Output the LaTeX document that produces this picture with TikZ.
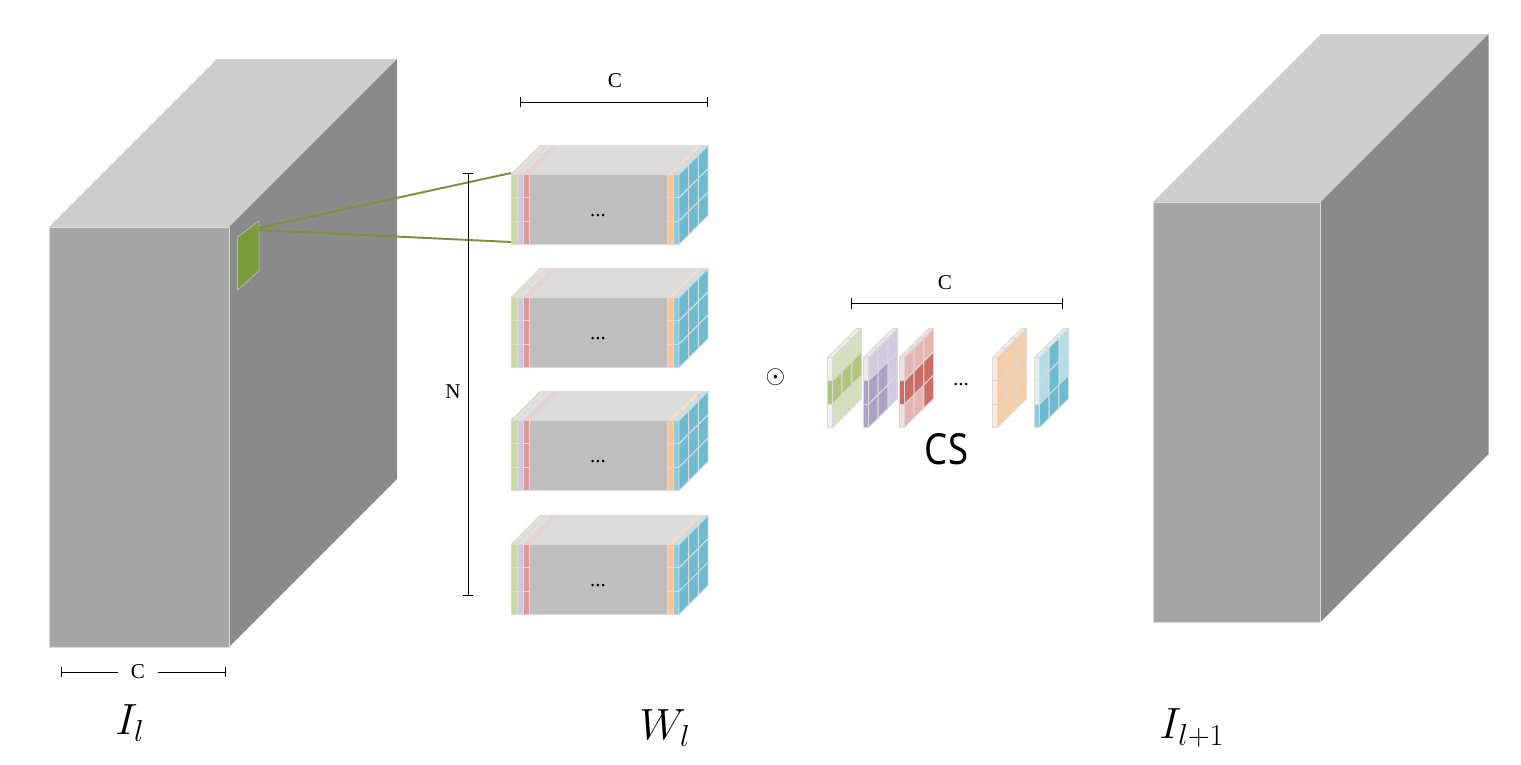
\documentclass[tikz,border=0pt]{standalone}
\usepackage{fontspec}
\setmainfont{Liberation Serif}
\newfontfamily\csfont{Noto Sans}
\usepackage{amsmath, amssymb}
\usepackage{xcolor}
\usetikzlibrary{calc}

\definecolor{bigfront}{HTML}{A6A6A6}
\definecolor{bigside}{HTML}{8A8A8A}
\definecolor{bigtop}{HTML}{CDCDCD}
\definecolor{edgegray}{HTML}{DADADA}
\definecolor{patchedge}{HTML}{B4B4B4}
\definecolor{blockfront}{HTML}{BEBEBE}
\definecolor{blocktop}{HTML}{DCDCDC}
\definecolor{patchgreen}{HTML}{7A9A3C}
\definecolor{linkgreen}{HTML}{76923C}

\definecolor{greenfront}{HTML}{C8D8A0}
\definecolor{greentop}{HTML}{DDE6CA}
\definecolor{purplefront}{HTML}{CFC7DE}
\definecolor{purpletop}{HTML}{E2DEEA}
\definecolor{redfront}{HTML}{DC9A94}
\definecolor{redtop}{HTML}{EFCFCB}
\definecolor{orangefront}{HTML}{F8C49A}
\definecolor{orangetop}{HTML}{FADCC3}
\definecolor{bluefront}{HTML}{8FCCDB}
\definecolor{bluetop}{HTML}{C3E1EA}
\definecolor{blueside}{HTML}{6BBCD2}

\definecolor{greenlight}{HTML}{D5E0BE}
\definecolor{greendark}{HTML}{AFC77C}
\definecolor{greenpale}{HTML}{EEF3E5}
\definecolor{purplelight}{HTML}{D2CBE0}
\definecolor{purpledark}{HTML}{AFA0C6}
\definecolor{purplepale}{HTML}{ECE9F2}
\definecolor{redlight}{HTML}{E6B5B1}
\definecolor{reddark}{HTML}{CB6D62}
\definecolor{redpale}{HTML}{F4DDDB}
\definecolor{orangelight}{HTML}{F8CEA9}
\definecolor{orangepale}{HTML}{FCEADC}
\definecolor{bluelight}{HTML}{B3DCE6}
\definecolor{bluepale}{HTML}{DCEFF4}

\tikzset{
	cell/.style = {draw = edgegray, line width = 0.55pt},
	dimline/.style = {|-|, black, line width = 0.5pt},
	dimlabel/.style = {font = \fontsize{12}{12}\selectfont},
	dots/.style = {font = \fontsize{12}{12}\selectfont},
	biglabel/.style = {font = \fontsize{25}{25}\selectfont},
	link/.style = {draw = linkgreen, line width = 1.1pt}
}

% x, y, width, height, depth
\newcommand{\cuboid}[5]{
	\fill [bigtop] (#1,#2) -- ++(#5,-#5) -- ++(#3,0) -- ++(-#5,#5) -- cycle;
	\fill [bigside] ({#1+#3},#2) -- ++(#5,-#5) -- ++(0,#4) -- ++(-#5,#5) -- cycle;
	\filldraw [fill = bigfront, draw = edgegray, line width = 0.5pt] (#1,#2) rectangle ++(#3,#4);
}

% vertical shift of one block
\newcommand{\wblock}[1]{
	\begin{scope}[shift = {(0,#1)}]
		\filldraw [fill = blocktop, cell] (511,174.5) -- (540,145.5) -- (708,145.5) -- (679,174.5) -- cycle;
		\foreach \x/\colf/\colt in {511.5/greenfront/greentop, 517.5/purplefront/purpletop, 523.5/redfront/redtop, 667.5/orangefront/orangetop, 673.5/bluefront/bluetop}
		{
			\foreach \k in {0,1,2}
			{
				\filldraw [fill = \colt, cell] ({\x+\k*29/3},{174.5-\k*29/3}) -- ++(5.5,0) -- ++({29/3},{-29/3}) -- ++(-5.5,0) -- cycle;
				\filldraw [fill = \colf, cell] (\x,{174.5+\k*70/3}) rectangle ++(5.5,{70/3});
			}
		}
		\filldraw [fill = blockfront, cell] (529.5,174.5) rectangle (667,244.5);
		\foreach \c in {0,1,2}
		{
			\foreach \r in {0,1,2}
			{
				\filldraw [fill = blueside, cell] ({679+\c*29/3},{174.5+\r*70/3-\c*29/3}) -- ++({29/3},{-29/3}) -- ++(0,{70/3}) -- ++({-29/3},{29/3}) -- cycle;
			}
		}
		\node [dots] (dots#1) at (598,216) {...};
	\end{scope}
}

% x, light, dark, pale, dark cells (column/row), front rows (row/colour)
\newcommand{\csslice}[6]{
	\foreach \k in {0,1,2}
	{
		\filldraw [fill = #4, cell] ({#1+\k*29/3},{357.5-\k*29/3}) -- ++(5,0) -- ++({29/3},{-29/3}) -- ++(-5,0) -- cycle;
		\filldraw [fill = #4, cell] (#1,{357.5+\k*70/3}) rectangle ++(5,{70/3});
		\foreach \r in {0,1,2}
		{
			\filldraw [fill = #2, cell] ({#1+5+\k*29/3},{357.5+\r*70/3-\k*29/3}) -- ++({29/3},{-29/3}) -- ++(0,{70/3}) -- ++({-29/3},{29/3}) -- cycle;
		}
	}
	\foreach \c/\r in {#5}
	{
		\filldraw [fill = #3, cell] ({#1+5+\c*29/3},{357.5+\r*70/3-\c*29/3}) -- ++({29/3},{-29/3}) -- ++(0,{70/3}) -- ++({-29/3},{29/3}) -- cycle;
	}
	\foreach \r/\colr in {#6}
	{
		\filldraw [fill = \colr, cell] (#1,{357.5+\r*70/3}) rectangle ++(5,{70/3});
	}
}

\begin{document}
\begin{tikzpicture}[x = 0.02cm, y = -0.02cm]
	\useasboundingbox (0,0) rectangle (1521,764);

	% input and output volumes
	\cuboid{49}{227}{180}{420}{168}
	\cuboid{1153}{202}{167.5}{420}{168}

	% patch on the input volume
	\filldraw [fill = patchgreen, draw = patchedge, line width = 0.5pt] (237.5,237) -- (259,221) -- (259,271) -- (237.5,290) -- cycle;

	% weight blocks
	\wblock{0}
	\wblock{123}
	\wblock{246}
	\wblock{370}

	% links from patch to first block
	\coordinate (patchtop) at (259,228);
	\coordinate (patchbot) at (259,230);
	\coordinate (blocktopl) at (511,173);
	\coordinate (blockbotl) at (511,242);
	\draw [link] (patchtop) -- (blocktopl);
	\draw [link] (patchbot) -- (blockbotl);

	% channel slices
	\csslice{827.5}{greenlight}{greendark}{greenpale}{0/1, 1/1, 2/1}{1/greendark}
	\csslice{863.5}{purplelight}{purpledark}{purplepale}{0/1, 1/1, 0/2, 1/2}{1/purpledark, 2/purpledark}
	\csslice{899.5}{redlight}{reddark}{redpale}{0/1, 1/1, 2/1, 2/2}{1/reddark}
	\csslice{992.5}{orangelight}{orangelight}{orangepale}{0/0}{0/orangepale}
	\csslice{1034.5}{bluelight}{blueside}{bluepale}{0/2, 1/0, 1/1, 1/2, 2/2}{2/bluefront}

	% dimensions
	\coordinate (wcl) at (520,102);
	\coordinate (wcr) at (707.5,102);
	\draw [dimline] (wcl) -- (wcr);
	\node [dimlabel] (wc) at (615,81) {C};

	\coordinate (wnt) at (468,173);
	\coordinate (wnb) at (468,596);
	\draw [dimline] (wnt) -- (wnb);
	\node [dimlabel] (wn) at (453,392) {N};

	\coordinate (csl) at (850.5,303.5);
	\coordinate (csr) at (1062.5,303.5);
	\draw [dimline] (csl) -- (csr);
	\node [dimlabel] (cc) at (945,283) {C};

	\node [dimlabel, minimum width = 22pt, inner xsep = 0pt] (ic) at (138,672) {C};
	\coordinate (icl) at (60.5,672);
	\coordinate (icr) at (226,672);
	\draw [|-, line width = 0.5pt] (icl) -- (ic.west);
	\draw [-|, line width = 0.5pt] (ic.east) -- (icr);

	% operator, dots and names
	\node [font = \fontsize{15}{15}\selectfont] (odot) at (775.5,377) {$\odot$};
	\node [dots] (csdots) at (961,385) {...};
	\node (cs) at (946.5,449) {\scalebox{0.85}[1]{\csfont\fontsize{24.4}{24.4}\selectfont CS}};

	\node [biglabel] (il) at (130,723) {$I_l$};
	\node [biglabel] (wl) at (665,728) {$W_l$};
	\node [biglabel] (ilnext) at (1192,728) {$I_{l+1}$};
\end{tikzpicture}
\end{document}
